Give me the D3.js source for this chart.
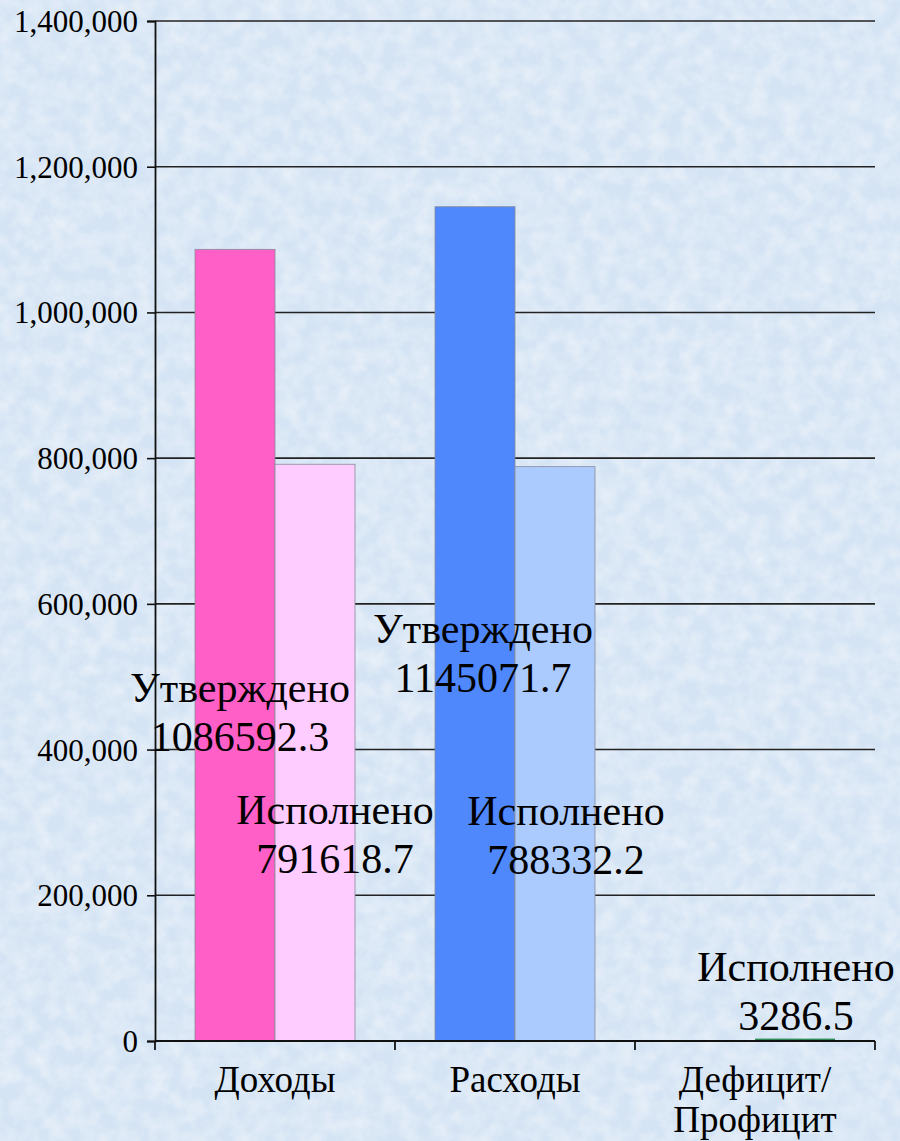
<!DOCTYPE html>
<html>
<head>
<meta charset="utf-8">
<script src="https://cdn.jsdelivr.net/npm/d3@7"></script>
<style>
html,body{margin:0;padding:0;background:#dbe8f5;}
svg{display:block;}
</style>
</head>
<body>
<svg id="chart" width="900" height="1141"></svg>
<script>
// ---- data ----
const categories = ["Доходы", "Расходы", "Дефицит/Профицит"];
const categoryLines = [["Доходы"], ["Расходы"], ["Дефицит/", "Профицит"]];
const seriesNames = ["Утверждено", "Исполнено"];
const approved = [1086592.3, 1145071.7, null];
const executed = [791618.7, 788332.2, 3286.5];
const yTicks = [0, 200000, 400000, 600000, 800000, 1000000, 1200000, 1400000];

// colours per category per series
const barColors = [
  ["#ff5fc6", "#ffccff"],
  ["#4f88fc", "#abcbff"],
  ["#2e8b57", "#2e8b57"]
];
// label placement: offset from bar centre (px) and baseline y of first line
const labelOffsets = {
  "0-0": {dx: 5, y: 702},
  "0-1": {dx: 20, y: 824},
  "1-0": {dx: 8, y: 643},
  "1-1": {dx: 11, y: 825},
  "2-1": {dx: 1, y: 981}
};

const FONT = "'Liberation Serif', 'Times New Roman', Tinos, serif";
const svg = d3.select("#chart");
const W = 900, H = 1141;
const margin = {left: 155, right: 25, top: 21, bottom: 100};
const plotW = W - margin.left - margin.right;
const plotH = H - margin.top - margin.bottom;

// background texture
const defs = svg.append("defs");
const f = defs.append("filter").attr("id", "tex").attr("x", 0).attr("y", 0).attr("width", "100%").attr("height", "100%");
f.append("feTurbulence").attr("type", "fractalNoise").attr("baseFrequency", 0.06).attr("numOctaves", 3).attr("seed", 7).attr("result", "n");
f.append("feColorMatrix").attr("in", "n").attr("type", "matrix")
  .attr("values", "0 0 0 0 1  0 0 0 0 1  0 0 0 0 1  1.2 0 0 0 -0.4");
svg.append("rect").attr("width", W).attr("height", H).attr("fill", "#d5e4f4");
svg.append("rect").attr("width", W).attr("height", H).attr("filter", "url(#tex)").attr("opacity", 0.65);

const g = svg.append("g").attr("transform", `translate(${margin.left},${margin.top})`);

const y = d3.scaleLinear().domain([0, 1400000]).range([plotH, 0]);
const x0 = d3.scaleBand().domain(categories).range([0, plotW]).padding(0);
const groupW = x0.bandwidth() / 1.5;
const x1 = d3.scaleBand().domain(seriesNames)
  .range([(x0.bandwidth() - groupW) / 2, (x0.bandwidth() + groupW) / 2]).padding(0);

// gridlines
g.append("g").selectAll("line").data(yTicks.filter(d => d > 0)).join("line")
  .attr("x1", 0).attr("x2", plotW)
  .attr("y1", d => y(d)).attr("y2", d => y(d))
  .attr("stroke", "#222").attr("stroke-width", 1.6);

// bars
const barData = [];
categories.forEach((c, i) => {
  [approved[i], executed[i]].forEach((v, j) => {
    if (v != null) barData.push({cat: c, ci: i, si: j, s: seriesNames[j], v});
  });
});
g.append("g").selectAll("rect").data(barData).join("rect")
  .attr("x", d => x0(d.cat) + x1(d.s))
  .attr("y", d => y(d.v))
  .attr("width", x1.bandwidth())
  .attr("height", d => y(0) - y(d.v))
  .attr("fill", d => barColors[d.ci][d.si])
  .attr("stroke", d => d.ci === 2 ? "none" : "#8a8a9a")
  .attr("stroke-width", 0.8);

// y axis
const yAxis = d3.axisLeft(y).tickValues(yTicks).tickFormat(d3.format(",")).tickSize(8).tickPadding(9);
const ya = g.append("g").call(yAxis);
ya.select(".domain").attr("stroke", "#111").attr("stroke-width", 1.8);
ya.selectAll(".tick line").attr("stroke", "#111").attr("stroke-width", 1.6);
ya.selectAll("text")
  .style("font-family", FONT).style("font-size", "31px")
  .attr("fill", "#000").attr("dy", "0.34em");

// x axis
const xa = g.append("g").attr("transform", `translate(0,${plotH})`);
xa.append("line").attr("x1", 0).attr("x2", plotW).attr("y1", 0).attr("y2", 0)
  .attr("stroke", "#111").attr("stroke-width", 1.8);
const bounds = categories.map(c => x0(c)).concat([plotW]);
xa.selectAll("line.tk").data(bounds).join("line").attr("class", "tk")
  .attr("x1", d => d).attr("x2", d => d).attr("y1", 0).attr("y2", 9)
  .attr("stroke", "#111").attr("stroke-width", 1.8);
const catText = xa.selectAll("text.cat").data(categories).join("text").attr("class", "cat")
  .attr("x", d => x0(d) + x0.bandwidth() / 2)
  .attr("y", 51)
  .attr("text-anchor", "middle")
  .style("font-family", FONT).style("font-size", "37px")
  .attr("fill", "#000");
catText.each(function(d, i) {
  d3.select(this).selectAll("tspan").data(categoryLines[i]).join("tspan")
    .attr("x", x0(d) + x0.bandwidth() / 2)
    .attr("dy", (t, k) => k === 0 ? 0 : 40)
    .text(t => t);
});

// data labels
const lbl = g.append("g");
barData.forEach(d => {
  const key = `${d.ci}-${d.si}`;
  const off = labelOffsets[key];
  if (!off) return;
  const cx = x0(d.cat) + x1(d.s) + x1.bandwidth() / 2 + off.dx;
  const t = lbl.append("text")
    .attr("text-anchor", "middle")
    .style("font-family", FONT).style("font-size", "42px")
    .attr("fill", "#000");
  t.append("tspan").attr("x", cx).attr("y", off.y - margin.top).text(d.s);
  t.append("tspan").attr("x", cx).attr("dy", 49).text(String(d.v));
});
</script>
</body>
</html>
